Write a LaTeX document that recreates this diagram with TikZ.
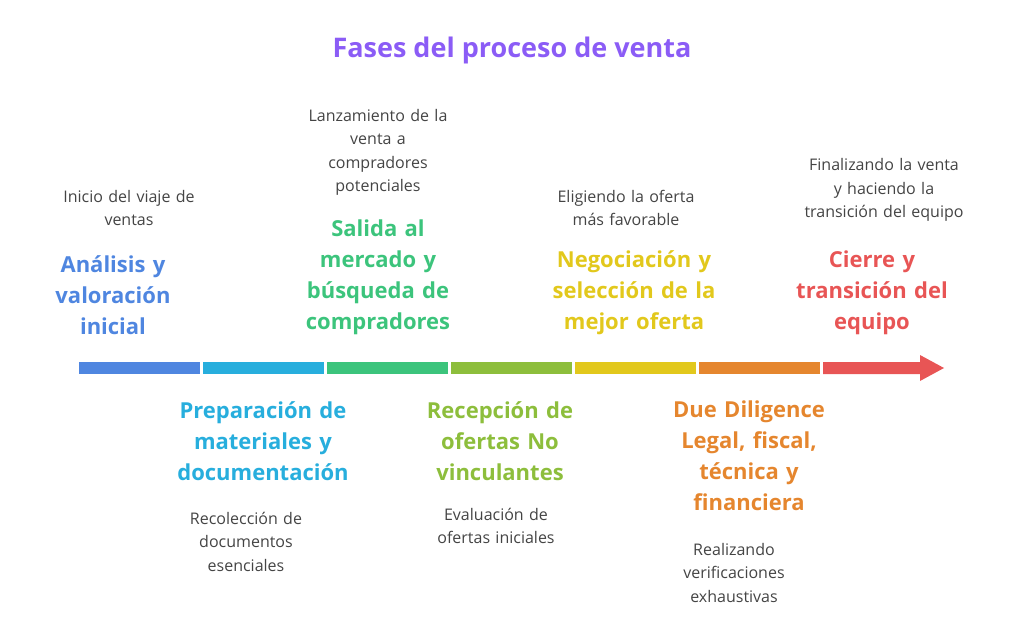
\documentclass[tikz,border=0pt]{standalone}
\usepackage{fontspec}
\setmainfont{Open Sans}
\usetikzlibrary{positioning}
\definecolor{cTitle}{HTML}{8B5CF6}
\definecolor{cA}{HTML}{4F86E0}
\definecolor{cB}{HTML}{27AEDD}
\definecolor{cC}{HTML}{3CC47C}
\definecolor{cD}{HTML}{8DBE3C}
\definecolor{cE}{HTML}{E2C81C}
\definecolor{cF}{HTML}{E5862E}
\definecolor{cG}{HTML}{E85555}
\definecolor{cTxt}{HTML}{444444}
\tikzset{
  seg/.style={fill=#1, draw=none, minimum height=12pt, minimum width=121pt, inner sep=0pt},
  head/.style={text=#1, font=\fontsize{22}{31}\selectfont\bfseries, align=center, text width=200pt, inner sep=0pt},
  desc/.style={text=cTxt, font=\fontsize{16}{23.5}\selectfont, align=center, text width=200pt, inner sep=0pt}
}
\begin{document}
\begin{tikzpicture}[x=1pt,y=-1pt]
  \useasboundingbox (0,0) rectangle (1024,629);
  \node[text=cTitle, font=\fontsize{27}{34}\selectfont\bfseries] (title) at (512,50) {Fases del proceso de venta};

  % barra de fases
  \node[seg=cA] (s1) at (139.5,368) {};
  \node[seg=cB] (s2) at (263.5,368) {};
  \node[seg=cC] (s3) at (387.5,368) {};
  \node[seg=cD] (s4) at (511.5,368) {};
  \node[seg=cE] (s5) at (635.5,368) {};
  \node[seg=cF] (s6) at (759.5,368) {};
  \fill[cG] (823,362) -- (920,362) -- (920,355) -- (944,368) -- (920,381) -- (920,374) -- (823,374) -- cycle;
  \coordinate (s7) at (872,368);

  % arriba
  \node[head=cA, anchor=south] (h1) at (113,335) {Análisis y\\valoración\\inicial};
  \node[desc, anchor=south, text width=160pt] (d1) at (129,226) {Inicio del viaje de\\ventas};
  \node[head=cC, anchor=south] (h3) at (378,335) {Salida al\\mercado y\\búsqueda de\\compradores};
  \node[desc, anchor=south] (d3) at (378,196) {Lanzamiento de la\\venta a\\compradores\\potenciales};
  \node[head=cE, anchor=south] (h5) at (634,335) {Negociación y\\selección de la\\mejor oferta};
  \node[desc, anchor=south] (d5) at (626,226) {Eligiendo la oferta\\más favorable};
  \node[head=cG, anchor=south] (h7) at (872,335) {Cierre y\\transición del\\equipo};
  \node[desc, anchor=south] (d7) at (884,222) {Finalizando la venta\\y haciendo la\\transición del equipo};

  % abajo
  \node[head=cB, anchor=north] (h2) at (263,401) {Preparación de\\materiales y\\documentación};
  \node[desc, anchor=north] (d2) at (246,512) {Recolección de\\documentos\\esenciales};
  \node[head=cD, anchor=north] (h4) at (500,401) {Recepción de\\ofertas No\\vinculantes};
  \node[desc, anchor=north] (d4) at (496,508) {Evaluación de\\ofertas iniciales};
  \node[head=cF, anchor=north] (h6) at (749,401) {Due Diligence\\Legal, fiscal,\\técnica y\\financiera};
  \node[desc, anchor=north] (d6) at (734,543) {Realizando\\verificaciones\\exhaustivas};
\end{tikzpicture}
\end{document}
